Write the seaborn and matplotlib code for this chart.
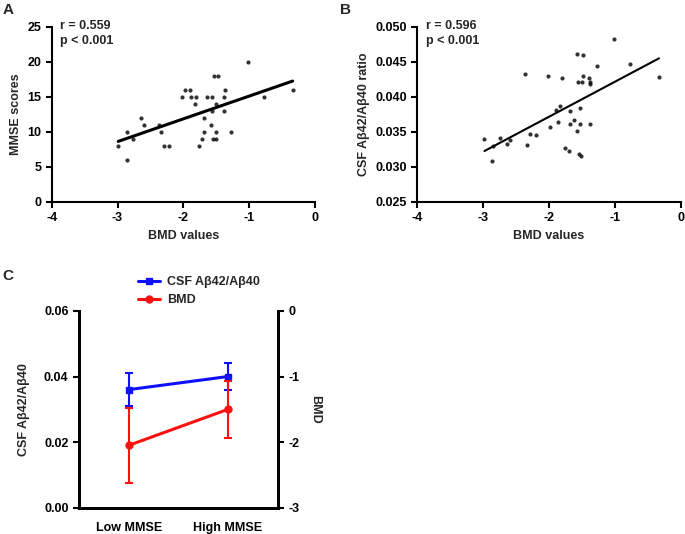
import numpy as np
import pandas as pd
import matplotlib
matplotlib.use('Agg')
import matplotlib.pyplot as plt
from matplotlib.lines import Line2D
import seaborn as sns

bmd_a = [-2.99, -2.86, -2.85, -2.77, -2.65, -2.60, -2.37, -2.34, -2.30, -2.22,
         -2.02, -1.98, -1.90, -1.88, -1.81, -1.83, -1.77, -1.71, -1.69, -1.69,
         -1.64, -1.57, -1.58, -1.56, -1.54, -1.48, -1.55, -1.51, -1.50, -1.50,
         -1.39, -1.37, -1.38, -1.27, -1.02, -0.77, -0.34]
mmse = [8, 6, 10, 9, 12, 11, 11, 10, 8, 8,
        15, 16, 16, 15, 15, 14, 8, 9, 10, 12,
        15, 13, 11, 15, 18, 18, 9, 9, 10, 14,
        15, 16, 13, 10, 20, 15, 16]

# dados do gráfico B (BMD x razão Aβ42/Aβ40)
bmd_b = [-2.98, -2.85, -2.86, -2.75, -2.64, -2.59, -2.36, -2.34, -2.29, -2.20,
         -2.01, -1.98, -1.89, -1.83, -1.87, -1.80, -1.76, -1.70, -1.68, -1.68,
         -1.62, -1.58, -1.49, -1.56, -1.50, -1.48, -1.57, -1.53, -1.53, -1.55,
         -1.51, -1.39, -1.37, -1.37, -1.37, -1.27, -1.01, -0.77, -0.33]
ratio = [0.0339, 0.0330, 0.0308, 0.0341, 0.0333, 0.0338, 0.0432, 0.0331, 0.0347, 0.0345,
         0.0429, 0.0356, 0.0381, 0.0387, 0.0364, 0.0426, 0.0326, 0.0322, 0.0380, 0.0361,
         0.0366, 0.0461, 0.0459, 0.0421, 0.0421, 0.0429, 0.0351, 0.0361, 0.0384, 0.0318,
         0.0315, 0.0426, 0.0421, 0.0418, 0.0361, 0.0444, 0.0482, 0.0447, 0.0428]

# dados do gráfico C (médias e desvios por grupo)
grupos = ['Low MMSE', 'High MMSE']
csf_media = [0.036, 0.040]
csf_erro = [0.005, 0.004]
bmd_media = [-2.05, -1.50]
bmd_erro = [0.57, 0.43]

sns.set_style('ticks')
plt.rcParams['font.family'] = ['Liberation Sans', 'DejaVu Sans']
plt.rcParams['font.weight'] = 'bold'
plt.rcParams['axes.labelweight'] = 'bold'
plt.rcParams['axes.unicode_minus'] = False
plt.rcParams['axes.linewidth'] = 1.5
plt.rcParams['xtick.major.width'] = 1.5
plt.rcParams['ytick.major.width'] = 1.5
plt.rcParams['xtick.major.size'] = 4
plt.rcParams['ytick.major.size'] = 4
plt.rcParams['xtick.color'] = 'black'
plt.rcParams['ytick.color'] = 'black'
plt.rcParams['axes.edgecolor'] = 'black'

fig = plt.figure(figsize=(6.85, 5.34), dpi=100)
ax_a = fig.add_axes([0.0755, 0.6223, 0.3844, 0.3277])
ax_b = fig.add_axes([0.6092, 0.6223, 0.3845, 0.3277])
ax_c = fig.add_axes([0.1153, 0.0493, 0.2901, 0.3684])

fs = 9

# painel A
df_a = pd.DataFrame({'bmd': bmd_a, 'mmse': mmse})
sns.regplot(data=df_a, x='bmd', y='mmse', ax=ax_a, ci=None,
            scatter_kws={'s': 9, 'color': 'black', 'linewidths': 0},
            line_kws={'color': 'black', 'lw': 2.2})
ax_a.set_xlim(-4, 0)
ax_a.set_ylim(0, 25)
ax_a.set_xticks([-4, -3, -2, -1, 0])
ax_a.set_yticks([0, 5, 10, 15, 20, 25])
ax_a.set_xlabel('BMD values', fontsize=fs)
ax_a.set_ylabel('MMSE scores', fontsize=fs)
ax_a.text(0.032, 1.04, 'r = 0.559\np < 0.001', transform=ax_a.transAxes,
          fontsize=fs, fontweight='bold', va='top', linespacing=1.4)
sns.despine(ax=ax_a)

# painel B
df_b = pd.DataFrame({'bmd': bmd_b, 'ratio': ratio})
sns.regplot(data=df_b, x='bmd', y='ratio', ax=ax_b, ci=None,
            scatter_kws={'s': 9, 'color': 'black', 'linewidths': 0},
            line_kws={'color': 'black', 'lw': 1.5})
ax_b.set_xlim(-4, 0)
ax_b.set_ylim(0.025, 0.050)
ax_b.set_xticks([-4, -3, -2, -1, 0])
ax_b.set_yticks([0.025, 0.030, 0.035, 0.040, 0.045, 0.050])
ax_b.set_yticklabels(['0.025', '0.030', '0.035', '0.040', '0.045', '0.050'])
ax_b.set_xlabel('BMD values', fontsize=fs)
ax_b.set_ylabel('CSF Aβ42/Aβ40 ratio', fontsize=fs)
ax_b.text(0.032, 1.04, 'r = 0.596\np < 0.001', transform=ax_b.transAxes,
          fontsize=fs, fontweight='bold', va='top', linespacing=1.4)
sns.despine(ax=ax_b)

# painel C com dois eixos y
pos = np.arange(len(grupos))
ax_c2 = ax_c.twinx()
ax_c.errorbar(pos, csf_media, yerr=csf_erro, color='#1010ff', lw=2.2,
              marker='s', ms=5, capsize=3, elinewidth=1.5, capthick=1.5)
ax_c2.errorbar(pos, bmd_media, yerr=bmd_erro, color='#ff1010', lw=2.2,
               marker='o', ms=5, capsize=3, elinewidth=1.5, capthick=1.5)
ax_c.set_xlim(-0.5, 1.5)
ax_c.set_ylim(0, 0.06)
ax_c.set_yticks([0, 0.02, 0.04, 0.06])
ax_c.set_yticklabels(['0.00', '0.02', '0.04', '0.06'])
ax_c.set_xticks(pos)
ax_c.set_xticklabels(grupos)
ax_c.tick_params(axis='x', length=0, pad=10)
ax_c.set_ylabel('CSF Aβ42/Aβ40', fontsize=fs, labelpad=10)
ax_c2.set_ylim(-3, 0)
ax_c2.set_yticks([-3, -2, -1, 0])
ax_c2.set_ylabel('BMD', fontsize=fs, rotation=270, labelpad=16)
for a in (ax_c, ax_c2):
    a.spines['top'].set_visible(False)
    a.spines['left'].set_linewidth(2)
    a.spines['right'].set_linewidth(2)
    a.spines['bottom'].set_linewidth(2)
    a.tick_params(labelsize=fs)
ax_a.tick_params(labelsize=fs)
ax_b.tick_params(labelsize=fs)

h1 = Line2D([], [], color='#1010ff', lw=2.2, marker='s', ms=5)
h2 = Line2D([], [], color='#ff1010', lw=2.2, marker='o', ms=5)
fig.legend(handles=[h1, h2], labels=['CSF Aβ42/Aβ40', 'BMD'], frameon=False,
           fontsize=fs, loc='center left', bbox_to_anchor=(0.185, 0.455),
           handlelength=1.8, handletextpad=0.5, labelspacing=0.5)

# letras dos painéis
fig.text(0.004, 0.995, 'A', fontsize=11, fontweight='bold', va='top')
fig.text(0.497, 0.995, 'B', fontsize=11, fontweight='bold', va='top')
fig.text(0.004, 0.497, 'C', fontsize=11, fontweight='bold', va='top')

fig.savefig('out.png', dpi=100)
